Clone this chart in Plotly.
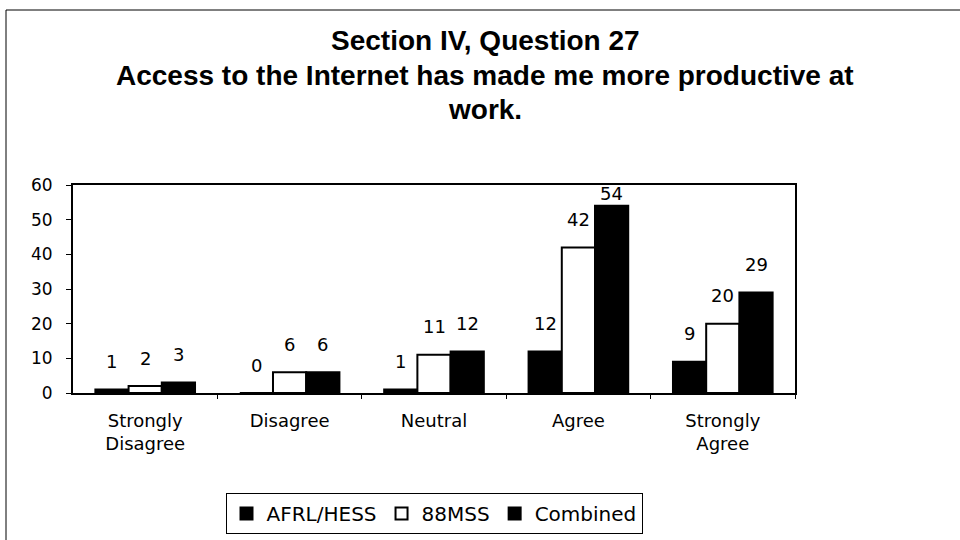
import plotly.graph_objects as go

categories = ["Strongly<br>Disagree", "Disagree", "Neutral", "Agree", "Strongly<br>Agree"]
series_names = ["AFRL/HESS", "88MSS", "Combined"]
afrl_hess = [1, 0, 1, 12, 9]
mss88 = [2, 6, 11, 42, 20]
combined = [3, 6, 12, 54, 29]
y_ticks = [0, 10, 20, 30, 40, 50, 60]

TFONT = "Liberation Sans, Arial, sans-serif"
FONT = "DejaVu Sans, sans-serif"
values = [afrl_hess, mss88, combined]
fills = ["black", "white", "black"]
bar_w = 0.23
offsets = [-1.5 * bar_w, -0.5 * bar_w, 0.5 * bar_w]

# pixel geometry of plot area
L, R, T, B = 73, 795, 185, 393
plot_w, plot_h = float(R - L), float(B - T)

x_idx = list(range(len(categories)))
fig = go.Figure()
for name, vals, fill, off in zip(series_names, values, fills, offsets):
    fig.add_trace(go.Bar(
        x=x_idx, y=vals, name=name, width=bar_w, offset=off,
        marker=dict(color=fill, line=dict(color="black", width=2)),
    ))

ymax = 60
annotations = []
for vals, off in zip(values, offsets):
    for i, v in enumerate(vals):
        shift = min(28, (ymax - v) * plot_h / ymax - 8)
        annotations.append(dict(
            x=i + off + bar_w / 2, y=v, xref="x", yref="y", text=str(v),
            showarrow=False, yshift=shift, font=dict(family=FONT, size=18, color="black"),
        ))

title_lines = ["Section IV, Question 27",
               "Access to the Internet has made me more productive at",
               "work."]
title_y_px = [40, 75, 110]
for t, ypx in zip(title_lines, title_y_px):
    annotations.append(dict(
        x=(485 - L) / plot_w, xref="paper", y=(B - ypx) / plot_h, yref="paper",
        text="<b>" + t + "</b>", showarrow=False, xanchor="center", yanchor="middle",
        font=dict(family=TFONT, size=28, color="black"),
    ))

fig.update_layout(
    width=960, height=540,
    margin=dict(l=L, r=960 - R, t=T, b=540 - B, autoexpand=False),
    paper_bgcolor="white", plot_bgcolor="white",
    barmode="overlay",
    showlegend=True,
    legend=dict(orientation="h", x=(434 - L) / plot_w, xanchor="center",
                yref="container", y=(540 - 493) / 540, yanchor="top",
                bordercolor="black", borderwidth=1, bgcolor="white",
                font=dict(family=FONT, size=20, color="black"),
                tracegroupgap=0, itemclick=False, itemsizing="constant"),
    annotations=annotations,
    font=dict(family=FONT, color="black"),
    shapes=[
        dict(type="line", xref="paper", yref="paper", x0=(6 - L) / plot_w, x1=(960 - L) / plot_w,
             y0=(B - 10) / plot_h, y1=(B - 10) / plot_h, line=dict(color="black", width=1)),
        dict(type="line", xref="paper", yref="paper", x0=(6 - L) / plot_w, x1=(6 - L) / plot_w,
             y0=(B - 10) / plot_h, y1=(B - 540) / plot_h, line=dict(color="black", width=1)),
    ],
)
fig.update_xaxes(
    range=[-0.5, len(categories) - 0.5], tickmode="array", tickvals=x_idx, ticktext=categories,
    ticks="", showline=True, linecolor="black", linewidth=2, mirror=True, showgrid=False,
    zeroline=False, tickfont=dict(family=FONT, size=18, color="black"), ticklabelstandoff=10,
    automargin=False,
    minor=dict(tickmode="array", tickvals=[i + 0.5 for i in x_idx], ticks="outside",
               ticklen=4, tickcolor="black", tickwidth=1),
)
fig.update_yaxes(
    range=[0, ymax], tickmode="array", tickvals=y_ticks, ticks="outside", ticklen=5,
    tickcolor="black", showline=True, linecolor="black", linewidth=2, mirror=True,
    showgrid=False, zeroline=False, tickfont=dict(family=FONT, size=17, color="black"),
    automargin=False, ticklabelstandoff=10,
)

fig.write_html("out.html", config={"displayModeBar": False},
               post_script="document.body.style.margin='0';")
